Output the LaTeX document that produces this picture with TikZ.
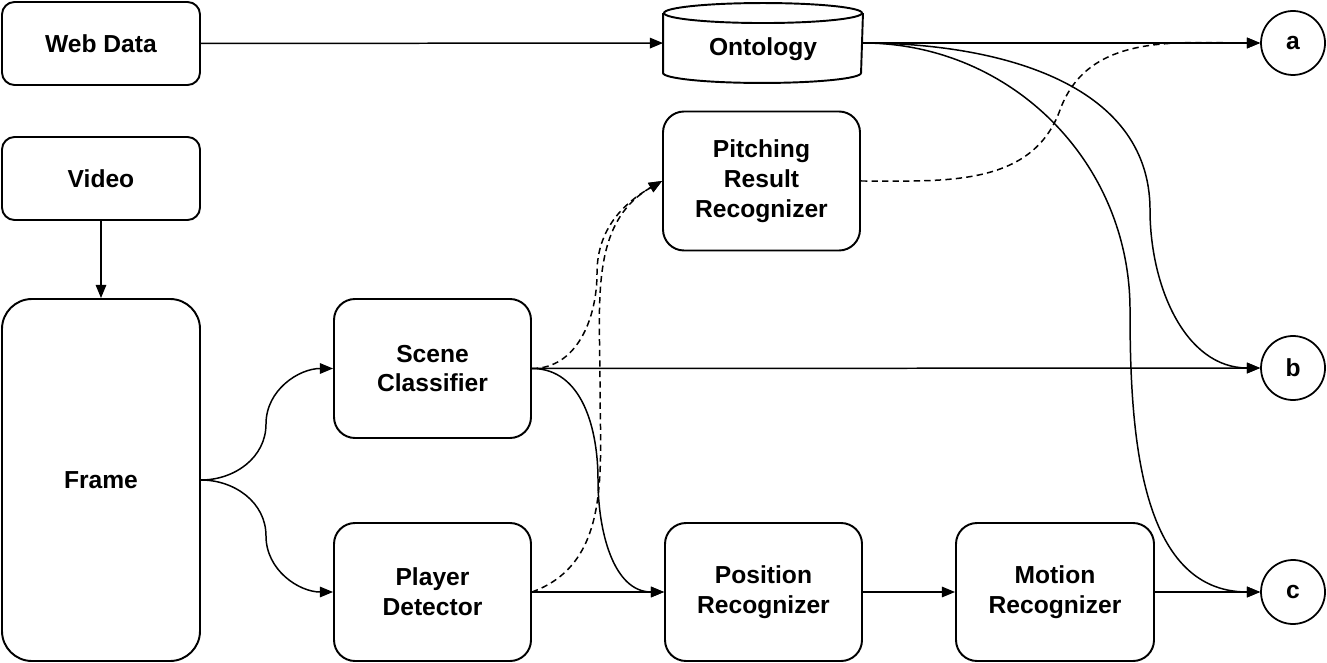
\documentclass[tikz,border=0pt]{standalone}
\usepackage{fontspec}
\setmainfont{Liberation Sans}
\usetikzlibrary{arrows.meta,calc}

\begin{document}
\begin{tikzpicture}[
    box/.style={draw, line width=1.1pt, align=center, font=\fontsize{14}{17}\selectfont\bfseries,
        minimum width=3.96cm, minimum height=2.78cm, rounded corners=0.42cm},
    small/.style={box, minimum height=1.66cm, rounded corners=0.25cm},
    port/.style={circle, draw, line width=1pt, minimum size=1.28cm, inner sep=0pt,
        font=\fontsize{14}{17}\selectfont\bfseries},
    link/.style={line width=0.85pt, -{Triangle[length=7.5pt,width=6pt]}},
    hint/.style={link, dash pattern=on 3.6pt off 2.4pt}]
\useasboundingbox (0,0) rectangle (26.54,-13.26);

\node[small](web) at (2.02,-0.87) {Web Data};
\node[small](video) at (2.02,-3.57) {Video};
\node[box, minimum height=7.24cm, rounded corners=0.6cm](frame) at (2.02,-9.6) {Frame};
\node[box, minimum width=3.94cm](scene) at (8.65,-7.37) {Scene\\Classifier};
\node[box, minimum width=3.94cm, minimum height=2.76cm](player) at (8.65,-11.84) {Player\\Detector};
\node[box, minimum width=3.94cm](pitch) at (15.23,-3.62) {Pitching\\Result\\Recognizer};
\node[box, minimum width=3.94cm, minimum height=2.76cm](pos) at (15.27,-11.84) {Position\\Recognizer};
\node[box, minimum height=2.76cm](motion) at (21.1,-11.84) {Motion\\Recognizer};

% ontology drawn as a cylinder around a plain node
\node[box, draw=none, minimum height=1.56cm, text height=0.5cm, text depth=0pt](onto) at (15.26,-0.86) {Ontology};
\draw[line width=1.1pt] ($(onto.north)+(0,-0.2)$) ellipse [x radius=1.98, y radius=0.2];
\draw[line width=1.1pt] ($(onto.north west)+(0,-0.2)$) -- ($(onto.south west)+(0,0.2)$)
    arc[start angle=180, end angle=360, x radius=1.98, y radius=0.2] -- ($(onto.north east)+(0,-0.2)$);

\begin{scope}[every node/.style={port}]
    \node(a) at (25.86,-0.86) {a};
    \node(b) at (25.86,-7.36) {b};
    \node(c) at (25.86,-11.84) {c};
\end{scope}

\begin{scope}[link]
    \draw (web) -- (onto);
    \draw (video) -- (frame);
    \draw (onto.east) -- (a);
    \draw (scene.east) -- (b);
    \draw (player.east) -- (pos.west);
    \draw (pos) -- (motion);
    \draw (motion) -- (c);
    \draw (frame.east) to[out=0,in=-90] (5.32,-8.48) to[out=90,in=180] (scene.west);
    \draw (frame.east) to[out=0,in=90] (5.32,-10.72) to[out=-90,in=180] (player.west);
    \draw (scene.east) to[out=0,in=90] (11.96,-9.6) to[out=-90,in=180] (pos.west);
    \draw (onto.east) to[out=0,in=90] (23.0,-4.2) to[out=-90,in=180] (b.west);
    \draw (onto.east) to[out=0,in=90] (22.6,-6.2) to[out=-90,in=180] (c.west);
\end{scope}

\begin{scope}[hint]
    \draw (scene.east) to[out=0,in=-90] (11.94,-5.46) to[out=90,in=210] (pitch.west);
    \draw (player.east) to[out=20,in=-90] (12.0,-7.7) to[out=90,in=210] (pitch.west);
    \draw (pitch.east) to[out=0,in=-110] (21.2,-2.2) to[out=70,in=180] (a.west);
\end{scope}
\end{tikzpicture}
\end{document}
